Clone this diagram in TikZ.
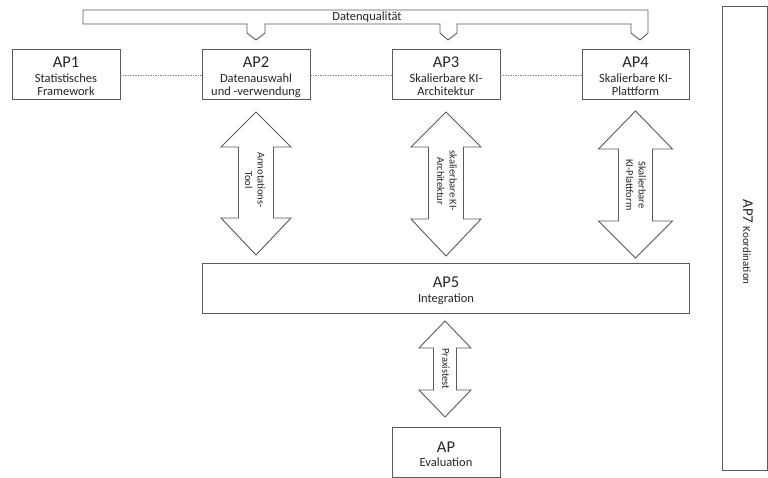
\documentclass[tikz,border=0pt]{standalone}
\usepackage{fontspec}
\setmainfont{Carlito}
\definecolor{ln}{HTML}{5A5A5A}
\definecolor{tx}{HTML}{262626}
\newcommand\myDblArrow[7]{% cx, hw, sw, ytop, ybase1, ybase2, ybot
  \draw[arrowshape] (#1,#4) -- (#1+#2,#5) -- (#1+#3,#5) -- (#1+#3,#6) -- (#1+#2,#6)
    -- (#1,#7) -- (#1-#2,#6) -- (#1-#3,#6) -- (#1-#3,#5) -- (#1-#2,#5) -- cycle;}
\begin{document}
\begin{tikzpicture}[x=1pt,y=-1pt,
  box/.style={draw=ln,line width=0.9pt,fill=white,inner sep=0pt},
  arrowshape/.style={draw=ln,line width=0.9pt,fill=white,line join=miter},
  dotline/.style={draw=ln!70,line width=0.4pt,dash pattern=on 1.5pt off 1pt},
  big/.style={text=tx,inner sep=0pt,font=\fontsize{16.5}{18}\selectfont},
  sub/.style={text=tx,align=center,inner sep=0pt,font=\fontsize{12.5}{13}\selectfont},
  lbl/.style={text=tx,align=center,inner sep=0pt,font=\fontsize{10.5}{12.5}\selectfont}]
\useasboundingbox (0,0) rectangle (768,478);
% bracket
\draw[arrowshape] (83,10) -- (648,10) -- (648,33) -- (640,40) -- (631,33) -- (631,24)
  -- (457,24) -- (457,33) -- (448,40) -- (440,33) -- (440,24)
  -- (265,24) -- (265,33) -- (256,40) -- (247,33) -- (247,24) -- (83,24) -- cycle;
\node[sub] (dq) at (367,17) {Datenqualität};
% boxes
\node[box,minimum width=108pt,minimum height=50pt] (ap1) at (66,74) {};
\node[big] (ap1a) at (66,62) {AP1};
\node[sub] (ap1b) at (66,84.5) {Statistisches\\Framework};
\node[box,minimum width=108pt,minimum height=50pt] (ap2) at (256,74) {};
\node[big] (ap2a) at (256,62) {AP2};
\node[sub] (ap2b) at (256,85.5) {Datenauswahl\\und -verwendung};
\node[box,minimum width=108pt,minimum height=50pt] (ap3) at (446,74) {};
\node[big] (ap3a) at (446,62) {AP3};
\node[sub] (ap3b) at (446,84.5) {Skalierbare KI-\\Architektur};
\node[box,minimum width=107pt,minimum height=50pt] (ap4) at (635.5,74) {};
\node[big] (ap4a) at (635.5,62) {AP4};
\node[sub] (ap4b) at (635.5,84.5) {Skalierbare KI-\\Plattform};
\draw[dotline] (ap1.east |- 0,75) -- (ap2.west |- 0,75);
\draw[dotline] (ap2.east |- 0,75) -- (ap3.west |- 0,75);
\draw[dotline] (ap3.east |- 0,75) -- (ap4.west |- 0,75);
% AP5
\node[box,minimum width=487pt,minimum height=50pt] (ap5) at (445.5,288) {};
\node[big] (ap5a) at (446,282.5) {AP5};
\node[sub] (ap5b) at (446,299) {Integration};
% AP evaluation
\node[box,minimum width=108pt,minimum height=50pt] (ape) at (446,452) {};
\node[big] (apea) at (446,447.5) {AP};
\node[sub] (apeb) at (446,462.5) {Evaluation};
% AP7
\node[box,minimum width=45pt,minimum height=464pt] (ap7) at (744.5,238) {};
\node[text=tx,inner sep=0pt,rotate=-90,anchor=center] (ap7t) at (748,242)
  {\fontsize{15}{17}\selectfont AP7 \fontsize{11}{13}\selectfont Koordination};
% double arrows
\myDblArrow{256}{35}{17.5}{112}{147}{218}{255}
\myDblArrow{446}{35}{17.5}{112}{147}{219}{256}
\myDblArrow{635.5}{37}{17}{111}{149}{221}{258}
\myDblArrow{445}{26}{11.5}{321}{348}{390}{417}
\node[lbl,rotate=-90] (t2) at (255,180) {Annotations-\\Tool};
\node[lbl,rotate=-90] (t3) at (447,181) {skalierbare KI-\\Architektur};
\node[lbl,rotate=-90] (t4) at (636,185) {Skalierbare\\KI-Plattform};
\node[lbl,rotate=-90] (t5) at (446,369) {Praxistest};
\end{tikzpicture}
\end{document}
